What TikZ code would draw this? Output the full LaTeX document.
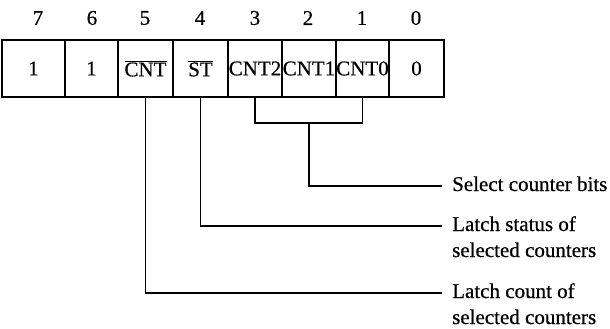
\documentclass[tikz,border=0pt]{standalone}
\usepackage{fontspec}
\setmainfont{Liberation Serif}[BoldFont=Liberation Serif,BoldFeatures={FakeBold=0.6}]
\begin{document}
\begin{tikzpicture}[x=1pt,y=-1pt,
  txt/.style={font=\fontsize{21}{24}\selectfont\bfseries},
  cell/.style={draw,line width=1.4pt,minimum height=57pt,inner sep=0pt,txt},
  num/.style={inner sep=0pt,txt},
  lbl/.style={anchor=west,inner xsep=10pt,inner ysep=0pt,text height=10pt,text depth=0pt,txt},
  conn/.style={line width=1.2pt}]
\useasboundingbox (0,0) rectangle (610,329);
% cells
\node[cell,minimum width=63pt] (c7) at (33.5,68.5) {1};
\node[cell,minimum width=53pt] (c6) at (91.5,68.5) {1};
\node[cell,minimum width=55pt] (c5) at (145.5,68.5) {$\overline{\mbox{CNT}}$};
\node[cell,minimum width=55pt] (c4) at (200.5,68.5) {$\overline{\mbox{ST}}$};
\node[cell,minimum width=54pt] (c3) at (255,68.5) {CNT2};
\node[cell,minimum width=54pt] (c2) at (309,68.5) {CNT1};
\node[cell,minimum width=53pt] (c1) at (362.5,68.5) {CNT0};
\node[cell,minimum width=55pt] (c0) at (416.5,68.5) {0};
% bit numbers
\node[num] (n7) at (38,18) {7};
\node[num] (n6) at (92,18) {6};
\node[num] (n5) at (145,18) {5};
\node[num] (n4) at (200,18) {4};
\node[num] (n3) at (255,18) {3};
\node[num] (n2) at (308,18) {2};
\node[num] (n1) at (362,18) {1};
\node[num] (n0) at (416,18) {0};
% labels
\node[lbl] (l1) at (442,186) {Select counter bits};
\node[lbl] (l2a) at (442,226) {Latch status of};
\node[lbl] (l2b) at (442,252) {selected counters};
\node[lbl] (l3a) at (442,293) {Latch count of};
\node[lbl] (l3b) at (442,319) {selected counters};
% connectors
\coordinate (br) at (309,123);
\draw[conn] (c3.south) |- (br) -| (c1.south);
\draw[conn] (br) |- (l1.west);
\draw[conn] (c4.south) |- (l2a.west);
\draw[conn] (c5.south) |- (l3a.west);
\end{tikzpicture}
\end{document}
